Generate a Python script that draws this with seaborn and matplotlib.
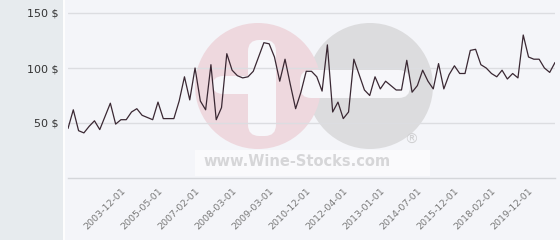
import matplotlib
matplotlib.use("Agg")
import matplotlib.pyplot as plt
from matplotlib.patches import Rectangle, FancyBboxPatch, Ellipse
from matplotlib.lines import Line2D
import seaborn as sns
import pandas as pd

# ---- data ----
prices = [45, 62, 43, 41, 47, 52, 44, 56, 68, 49,
          53, 53, 60, 63, 57, 55, 53, 69, 54, 54,
          54, 70, 92, 71, 100, 70, 62, 103, 53, 64,
          113, 98, 93, 91, 92, 97, 110, 123, 122, 110,
          88, 108, 85, 63, 78, 97, 97, 92, 79, 121,
          60, 69, 54, 60, 108, 94, 80, 75, 92, 81,
          88, 84, 80, 80, 107, 78, 84, 98, 88, 81,
          104, 81, 94, 102, 95, 95, 116, 117, 103, 100,
          95, 92, 98, 90, 95, 91, 130, 110, 108, 108,
          100, 96, 105]
tick_labels = ["2003-12-01", "2005-05-01", "2007-02-01", "2008-03-01",
               "2009-03-01", "2010-12-01", "2012-04-01", "2013-01-01",
               "2014-07-01", "2015-12-01", "2018-02-01", "2019-12-01"]
y_ticks = [50, 100, 150]
y_tick_labels = ["50 $", "100 $", "150 $"]

df = pd.DataFrame({"idx": list(range(len(prices))), "price": prices})

sns.set_style("white")
plt.rcParams["font.family"] = ["DejaVu Sans"]

W, H = 560, 240
fig = plt.figure(figsize=(W / 100, H / 100), dpi=100)
fig.patch.set_facecolor("#f4f5f9")

def fx(px):
    return px / W

def fy(py):
    return 1 - py / H

# left grey panel
fig.add_artist(Rectangle((0, 0), fx(63), 1, transform=fig.transFigure,
                         facecolor="#e7ebee", edgecolor="none", zorder=0))
fig.add_artist(Line2D([fx(64), fx(64)], [0, 1], transform=fig.transFigure,
                      color="white", lw=1.2, zorder=0))

# watermark (background decoration)
asp = W / H
def circ(cx, cy, r, color):
    fig.add_artist(Ellipse((fx(cx), fy(cy)), 2 * r / W, 2 * r / H,
                           transform=fig.transFigure, facecolor=color,
                           edgecolor="none", zorder=0))

def rbar(x0, y0, x1, y1, color):
    fig.add_artist(FancyBboxPatch((fx(x0), fy(y1)), fx(x1) - fx(x0), fy(y0) - fy(y1),
                                  boxstyle="round,pad=0,rounding_size=0.02",
                                  transform=fig.transFigure, facecolor=color,
                                  edgecolor="none", zorder=0, mutation_aspect=asp))

circ(370, 86, 63, "#dcdcde")
circ(258, 86, 63, "#eed8de")
rbar(248, 40, 276, 136, "#f7f7fa")
rbar(212, 76, 262, 94, "#f7f7fa")
rbar(300, 70, 410, 98, "#f7f7fa")
fig.add_artist(Rectangle((fx(195), fy(176)), fx(430) - fx(195), fy(150) - fy(176),
                         transform=fig.transFigure, facecolor="#fafafc",
                         edgecolor="none", zorder=0))
fig.text(fx(297), fy(161), "www.Wine-Stocks.com", ha="center", va="center",
         fontsize=10.5, fontweight="bold", color="#d6d6d8", zorder=0)
fig.text(fx(411), fy(140), "\u00ae", ha="center", va="center",
         fontsize=10, color="#d0d0d2", zorder=0)

ax = fig.add_axes([fx(68), fy(178), fx(555) - fx(68), fy(0) - fy(178)])
ax.set_facecolor("none")
ax.patch.set_alpha(0)

sns.lineplot(data=df, x="idx", y="price", ax=ax, color="#3a2833", linewidth=0.9)

ax.set_xlim(0, len(prices) - 1)
ax.set_ylim(0, 178 / 1.1)

for v in y_ticks:
    ax.axhline(v, color="#dcdde1", lw=1, zorder=0)

for s in ["top", "right", "left"]:
    ax.spines[s].set_visible(False)
ax.spines["bottom"].set_color("#d4d6da")
ax.spines["bottom"].set_linewidth(1)

ax.set_yticks(y_ticks)
ax.set_yticklabels(y_tick_labels, fontsize=8, color="#333333")
ax.tick_params(axis="y", length=0, pad=7)

tick_pos = [10 + 7 * k for k in range(len(tick_labels))]
ax.set_xticks(tick_pos)
ax.set_xticklabels(tick_labels, rotation=45, ha="right", rotation_mode="anchor",
                   fontsize=6.8, color="#7a7a7a")
ax.tick_params(axis="x", length=0, pad=6)
ax.set_xlabel("")
ax.set_ylabel("")

fig.savefig("out.png", dpi=100, facecolor=fig.get_facecolor())
